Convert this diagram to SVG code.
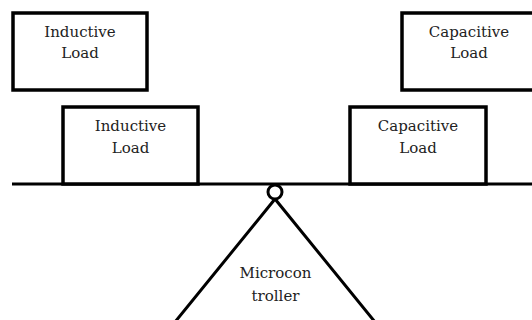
<svg xmlns="http://www.w3.org/2000/svg" width="532" height="320" viewBox="0 0 532 320">
<style>
.box{fill:#fff;stroke:#000;stroke-width:3.5}
.ln{fill:none;stroke:#000;stroke-width:3}
text{font-family:"DejaVu Serif","Liberation Serif",serif;font-size:15px;fill:#222;text-anchor:middle}
</style>
<rect width="532" height="320" fill="#fff"/>
<g id="connectors">
<line class="ln" x1="12" y1="184" x2="532" y2="184"/>
<polyline class="ln" points="175,322 275,199 375,322"/>
<circle cx="275" cy="192" r="7" fill="#fff" stroke="#000" stroke-width="3"/>
</g>
<g id="inductive-top">
<rect class="box" x="13" y="13" width="134" height="77"/>
<text x="80" y="37">Inductive</text>
<text x="80" y="58">Load</text>
</g>
<g id="capacitive-top">
<rect class="box" x="402" y="13" width="136" height="77"/>
<text x="469" y="37">Capacitive</text>
<text x="469" y="58">Load</text>
</g>
<g id="inductive-mid">
<rect class="box" x="63" y="107" width="135" height="77"/>
<text x="130.5" y="131">Inductive</text>
<text x="130.5" y="153">Load</text>
</g>
<g id="capacitive-mid">
<rect class="box" x="350" y="107" width="136" height="77"/>
<text x="418" y="131">Capacitive</text>
<text x="418" y="153">Load</text>
</g>
<g id="microcontroller">
<text x="275.5" y="278">Microcon</text>
<text x="275.5" y="301">troller</text>
</g>
</svg>
